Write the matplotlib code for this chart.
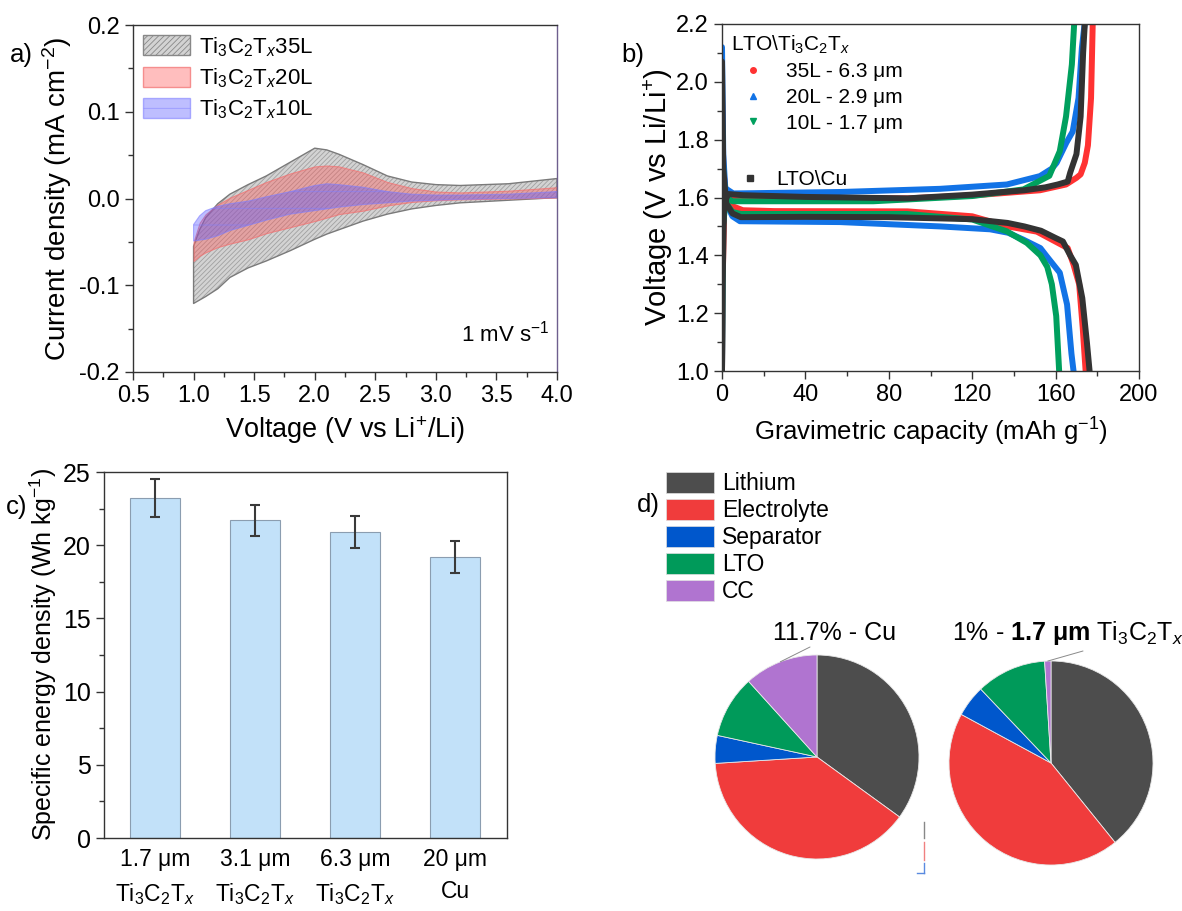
import matplotlib
matplotlib.use("Agg")
import matplotlib.pyplot as plt
from matplotlib.lines import Line2D
from matplotlib.patches import Patch
from matplotlib.ticker import MultipleLocator
import numpy as np

plt.rcParams['font.family'] = ['Liberation Sans', 'DejaVu Sans']
plt.rcParams['mathtext.fontset'] = 'custom'
plt.rcParams['mathtext.rm'] = 'Liberation Sans'
plt.rcParams['mathtext.it'] = 'Liberation Sans:italic'
plt.rcParams['mathtext.bf'] = 'Liberation Sans:bold'
plt.rcParams['hatch.linewidth'] = 0.6
plt.rcParams['axes.linewidth'] = 1.0
plt.rcParams['axes.edgecolor'] = '#333333'
for a in ('xtick', 'ytick'):
    plt.rcParams[f'{a}.direction'] = 'out'
    plt.rcParams[f'{a}.major.size'] = 6
    plt.rcParams[f'{a}.minor.size'] = 3.5
    plt.rcParams[f'{a}.major.width'] = 1.0
    plt.rcParams[f'{a}.minor.width'] = 1.0
    plt.rcParams[f'{a}.color'] = '#333333'
    plt.rcParams[f'{a}.labelcolor'] = 'black'

# ---- a) cyclic voltammetry envelopes (mA cm-2) ----
cv_voltage = [1.0, 1.05, 1.1, 1.2, 1.3, 1.45, 1.6, 1.8, 2.0, 2.1, 2.2, 2.4, 2.6, 2.8, 3.0, 3.2, 3.6, 4.0]
cv35_high = [-0.055, -0.036, -0.022, -0.006, 0.005, 0.016, 0.026, 0.042, 0.058, 0.056, 0.051, 0.039, 0.026, 0.019, 0.016, 0.015, 0.017, 0.023]
cv35_low = [-0.121, -0.117, -0.113, -0.104, -0.091, -0.080, -0.072, -0.060, -0.047, -0.041, -0.036, -0.026, -0.018, -0.012, -0.008, -0.005, -0.002, 0.001]
cv20_high = [-0.050, -0.028, -0.018, -0.007, 0.001, 0.010, 0.019, 0.029, 0.037, 0.038, 0.037, 0.030, 0.019, 0.012, 0.008, 0.007, 0.009, 0.013]
cv20_low = [-0.072, -0.066, -0.062, -0.056, -0.052, -0.047, -0.040, -0.033, -0.026, -0.022, -0.018, -0.014, -0.008, -0.004, -0.002, -0.001, 0.000, 0.001]
cv10_high = [-0.030, -0.020, -0.014, -0.009, -0.006, -0.003, 0.002, 0.008, 0.015, 0.017, 0.016, 0.013, 0.008, 0.005, 0.004, 0.004, 0.005, 0.008]
cv10_low = [-0.049, -0.048, -0.047, -0.043, -0.037, -0.031, -0.025, -0.018, -0.014, -0.012, -0.010, -0.007, -0.005, -0.003, -0.002, -0.001, 0.000, 0.001]

# ---- b) galvanostatic profiles (capacity mAh/g, voltage V) ----
l35_chg_cap = [0, 0.3, 1, 3, 10, 40, 89, 120, 152.5, 165, 170, 172, 174, 175.5, 177, 177.8]
l35_chg_v = [1.0, 1.3, 1.56, 1.600, 1.600, 1.598, 1.597, 1.607, 1.625, 1.645, 1.668, 1.680, 1.720, 1.780, 1.944, 2.2]
l35_dis_cap = [0, 0.6, 2, 5, 10, 25, 89, 120, 137, 151, 158, 165.8, 168.5, 171.3, 173, 174.4]
l35_dis_v = [1.95, 1.70, 1.60, 1.57, 1.556, 1.553, 1.552, 1.535, 1.500, 1.482, 1.455, 1.425, 1.37, 1.30, 1.15, 1.0]

l20_chg_cap = [0, 0.4, 2, 5.4, 56.6, 104.6, 136.6, 152.5, 158.2, 160.5, 165.2, 168.2, 171, 172.6, 173.9]
l20_chg_v = [1.0, 1.5, 1.63, 1.614, 1.619, 1.630, 1.645, 1.674, 1.700, 1.720, 1.790, 1.828, 1.944, 2.117, 2.2]
l20_dis_cap = [0, 0.6, 2, 5, 8.6, 56.6, 104.6, 128.6, 137.3, 144.6, 152.7, 155.7, 162, 165.5, 167.6, 168.6]
l20_dis_v = [2.12, 1.75, 1.58, 1.535, 1.518, 1.515, 1.500, 1.490, 1.478, 1.454, 1.425, 1.397, 1.34, 1.23, 1.06, 1.0]

l10_chg_cap = [0, 0.4, 2, 5, 72.6, 120, 144.6, 157, 162, 165, 167.8, 168.9]
l10_chg_v = [1.0, 1.5, 1.60, 1.587, 1.587, 1.605, 1.628, 1.675, 1.760, 1.880, 2.060, 2.2]
l10_dis_cap = [0, 0.6, 2, 5, 9, 88.6, 120, 136.6, 146.2, 152.7, 156, 158.2, 160.3, 161.7]
l10_dis_v = [1.86, 1.68, 1.58, 1.55, 1.543, 1.543, 1.524, 1.483, 1.443, 1.400, 1.360, 1.300, 1.190, 1.0]

cu_chg_cap = [0, 0.3, 1, 3, 10, 40, 89, 120, 145, 155, 161, 165.8, 167, 170, 172, 173.2, 174]
cu_chg_v = [1.0, 1.3, 1.58, 1.612, 1.608, 1.602, 1.597, 1.610, 1.625, 1.635, 1.645, 1.655, 1.686, 1.750, 1.880, 2.100, 2.2]
cu_dis_cap = [0, 0.6, 2, 5, 9, 40, 80, 120, 137, 145, 153, 160, 163.5, 167, 169.7, 172.8, 175, 176.3]
cu_dis_v = [2.07, 1.70, 1.58, 1.545, 1.532, 1.533, 1.532, 1.525, 1.512, 1.500, 1.485, 1.460, 1.448, 1.400, 1.367, 1.252, 1.10, 1.0]

# ---- c) specific energy density ----
bar_labels = ['1.7 μm\nTi$_3$C$_2$T$_x$', '3.1 μm\nTi$_3$C$_2$T$_x$',
              '6.3 μm\nTi$_3$C$_2$T$_x$', '20 μm\nCu']
energy = [23.2, 21.7, 20.9, 19.2]
energy_err = [1.3, 1.05, 1.1, 1.1]

# ---- d) mass breakdown ----
parts = ['Lithium', 'Electrolyte', 'Separator', 'LTO', 'CC']
cu_shares = [35.0, 39.0, 4.4, 9.9, 11.7]
mx_shares = [39.2, 43.7, 5.0, 11.1, 1.0]
part_colors = ['#4d4d4d', '#f03c3c', '#0057cc', '#009a5a', '#b074d0']

W, H = 1182, 911
fig = plt.figure(figsize=(W / 100, H / 100), dpi=100)


def px_axes(left, top, right, bottom):
    return fig.add_axes([left / W, 1 - bottom / H, (right - left) / W, (bottom - top) / H])


# ================= a) =================
ax = px_axes(133, 25, 557, 372)
red_fc, red_ec = (1.0, 0.33, 0.33, 0.38), (0.95, 0.45, 0.45, 0.75)
blue_fc, blue_ec = (0.33, 0.33, 1.0, 0.38), (0.5, 0.5, 1.0, 0.6)
ax.fill_between(cv_voltage, cv35_low, cv35_high, facecolor='#d3d3d3', edgecolor='#a0a0a0',
                hatch='///////', lw=0)
ax.fill_between(cv_voltage, cv35_low, cv35_high, facecolor='none', edgecolor='#7a7a7a', lw=1.0)
ax.fill_between(cv_voltage, cv20_low, cv20_high, facecolor=red_fc, edgecolor=red_ec, lw=0.8)
ax.fill_between(cv_voltage, cv10_low, cv10_high, facecolor=blue_fc, edgecolor=blue_ec, lw=0.8,
                hatch='-')
ax.set_xlim(0.5, 4.0)
ax.set_ylim(-0.2, 0.2)
ax.spines['right'].set_color('#6e5f8e')
ax.xaxis.set_major_locator(MultipleLocator(0.5))
ax.xaxis.set_minor_locator(MultipleLocator(0.25))
ax.yaxis.set_major_locator(MultipleLocator(0.1))
ax.yaxis.set_minor_locator(MultipleLocator(0.05))
ax.xaxis.set_major_formatter(lambda v, p: f'{v:.1f}')
ax.yaxis.set_major_formatter(lambda v, p: '0.0' if abs(v) < 1e-9 else f'{v:.1f}')
ax.tick_params(labelsize=17)
ax.set_xlabel('Voltage (V vs Li$^{+}$/Li)', fontsize=19.5, labelpad=5)
ax.set_ylabel('Current density (mA cm$^{-2}$)', fontsize=20, labelpad=4)
ax.text(0.983, 0.112, '1 mV s$^{-1}$', transform=ax.transAxes, ha='right', va='center', fontsize=16)
handles = [Patch(facecolor='#d3d3d3', edgecolor='#888888', hatch='//////'),
           Patch(facecolor=red_fc, edgecolor=red_ec),
           Patch(facecolor=blue_fc, edgecolor=blue_ec, hatch='-')]
ax.legend(handles, ['Ti$_3$C$_2$T$_x$35L', 'Ti$_3$C$_2$T$_x$20L', 'Ti$_3$C$_2$T$_x$10L'],
          loc='upper left', frameon=False, fontsize=16, handlelength=2.1, handleheight=1.0,
          labelspacing=0.35, handletextpad=0.4, borderaxespad=0.15, borderpad=0.3)

# ================= b) =================
bx = px_axes(722, 24, 1139, 371)
series = [
    (l35_chg_cap, l35_chg_v, l35_dis_cap, l35_dis_v, '#ff3232'),
    (l20_chg_cap, l20_chg_v, l20_dis_cap, l20_dis_v, '#1273e6'),
    (l10_chg_cap, l10_chg_v, l10_dis_cap, l10_dis_v, '#00a05e'),
    (cu_chg_cap, cu_chg_v, cu_dis_cap, cu_dis_v, '#333333'),
]
for cc, cv, dc, dv, col in series:
    bx.plot(cc, cv, color=col, lw=4.3, solid_capstyle='round', solid_joinstyle='round')
    bx.plot(dc, dv, color=col, lw=4.3, solid_capstyle='round', solid_joinstyle='round')
bx.set_xlim(0, 200)
bx.set_ylim(1.0, 2.2)
bx.xaxis.set_major_locator(MultipleLocator(40))
bx.xaxis.set_minor_locator(MultipleLocator(20))
bx.yaxis.set_major_locator(MultipleLocator(0.2))
bx.yaxis.set_minor_locator(MultipleLocator(0.1))
bx.yaxis.set_major_formatter(lambda v, p: f'{v:.1f}')
bx.tick_params(labelsize=17)
bx.set_xlabel('Gravimetric capacity (mAh g$^{-1}$)', fontsize=18.5, labelpad=7)
bx.set_ylabel('Voltage (V vs Li/Li$^{+}$)', fontsize=21, labelpad=1)
mk = [Line2D([], [], ls='none', marker='o', ms=4, color='#ff3232'),
      Line2D([], [], ls='none', marker='^', ms=4.5, color='#1273e6'),
      Line2D([], [], ls='none', marker='v', ms=4.5, color='#00a05e')]
leg1 = bx.legend(mk, ['35L - 6.3 μm', '20L - 2.9 μm', '10L - 1.7 μm'],
                 title='LTO\\Ti$_3$C$_2$T$_x$', alignment='left', loc='upper left',
                 frameon=False, fontsize=15, title_fontsize=15, handlelength=2.1,
                 handletextpad=0.5, labelspacing=0.32, borderaxespad=0.15, borderpad=0.3)
bx.add_artist(leg1)
bx.legend([Line2D([], [], ls='none', marker='s', ms=4, color='#333333')], ['LTO\\Cu'],
          loc='upper left', bbox_to_anchor=(0.03, 0.578), frameon=False, fontsize=15,
          handlelength=1.5, handletextpad=0.5, borderpad=0, borderaxespad=0)

# ================= c) =================
cx = px_axes(104, 472, 507, 838)
pos = np.arange(len(energy))
cx.bar(pos, energy, width=0.5, color='#c2e1f9', edgecolor='#8b9db0', lw=0.8)
cx.errorbar(pos, energy, yerr=energy_err, fmt='none', ecolor='#3a3a3a', elinewidth=1.5,
            capsize=3.5, capthick=1.5)
cx.set_xlim(-0.51, 3.52)
cx.set_ylim(0, 25)
cx.set_xticks(pos)
cx.set_xticklabels(bar_labels, fontsize=16.5, linespacing=1.5)
cx.tick_params(axis='x', length=0, pad=7)
cx.yaxis.set_major_locator(MultipleLocator(5))
cx.yaxis.set_minor_locator(MultipleLocator(2.5))
cx.tick_params(axis='y', labelsize=18)
cx.set_ylabel('Specific energy density (Wh kg$^{-1}$)', fontsize=18, labelpad=3)

# ================= d) =================
pie_axes = [px_axes(715, 655, 919, 859), px_axes(949, 661, 1153, 865)]
leader_ends = [(810, 647), (1083, 651)]
for pax, shares, (lx, ly) in zip(pie_axes, [cu_shares, mx_shares], leader_ends):
    wedges, _ = pax.pie(shares, colors=part_colors, startangle=90, counterclock=False,
                        radius=1.0, wedgeprops=dict(edgecolor='#e8e8e8', linewidth=0.6))
    pax.set_xlim(-1.0, 1.0)
    pax.set_ylim(-1.0, 1.0)
    pax.set_aspect('equal')
    w = wedges[-1]
    mid = np.deg2rad((w.theta1 + w.theta2) / 2)
    pax.annotate('', xy=(np.cos(mid), np.sin(mid)), xycoords='data',
                 xytext=(lx, H - ly), textcoords='figure pixels',
                 arrowprops=dict(arrowstyle='-', color='#8a8a8a', lw=0.7, shrinkA=0, shrinkB=0))

fig.text(835 / W, 1 - 633 / H, '11.7% - Cu', ha='center', va='center', fontsize=18)
fig.text(952 / W, 1 - 633 / H, r'1% - $\mathbf{1.7\ μm}$ Ti$_3$C$_2$T$_x$', ha='left',
         va='center', fontsize=18)

fig.legend([Patch(facecolor=c, edgecolor='#e0e0e0', lw=0.5) for c in part_colors], parts,
           loc='upper left', bbox_to_anchor=(666 / W, 1 - 472 / H), frameon=False,
           fontsize=16.5, handlelength=2.1, handleheight=1.0, labelspacing=0.17,
           handletextpad=0.35, borderpad=0, borderaxespad=0)

# small stray marks beside the left pie
for y0, y1, col in [(822, 838, '#888888'), (842, 860, '#f08080'), (863, 873, '#5a8ae0')]:
    fig.add_artist(Line2D([923.5 / W] * 2, [1 - y0 / H, 1 - y1 / H], color=col, lw=1.0))
fig.add_artist(Line2D([917 / W, 923.5 / W], [1 - 873 / H] * 2, color='#5a8ae0', lw=1.0))

# panel letters
for txt, x, y in [('a)', 21, 55), ('b)', 633, 55), ('c)', 17, 507), ('d)', 648, 505)]:
    fig.text(x / W, 1 - y / H, txt, ha='center', va='center', fontsize=18.5)

fig.savefig('out.png', dpi=100)
